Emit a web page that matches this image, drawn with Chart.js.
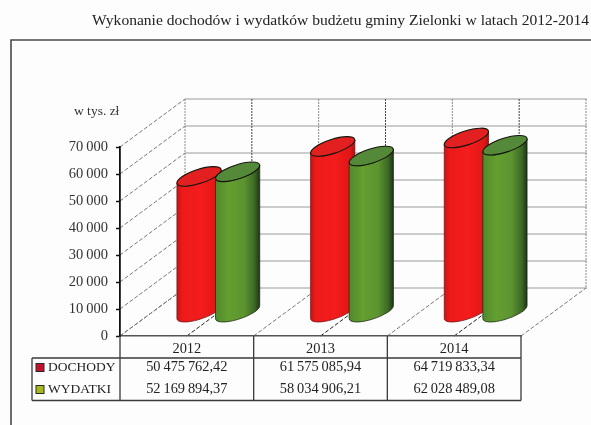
<!DOCTYPE html>
<html lang="pl">
<head>
<meta charset="utf-8">
<style>html,body{margin:0;padding:0;background:#fdfdfd}canvas{display:block;filter:blur(0.45px)}</style>
<script src="https://cdn.jsdelivr.net/npm/chart.js@4"></script>
</head>
<body>
<canvas id="c" width="591" height="425"></canvas>
<script>
const chartTitle = 'Wykonanie dochodów i wydatków budżetu gminy Zielonki w latach 2012-2014';
const unitLabel = 'w tys. zł';
const years = ['2012', '2013', '2014'];
const dochody = [50475762.42, 61575085.94, 64719833.34];
const wydatki = [52169894.37, 58034906.21, 62028489.08];
const SERIF = '"Liberation Serif","Times New Roman",serif';
const THIN = '\u2009';

function group(s){return s.replace(/\B(?=(\d{3})+(?!\d))/g, THIN);}
function money(v){const p=v.toFixed(2).split('.');return group(p[0])+','+p[1];}

const DEPTH = {x:65, y:48};
const BAR_SHIFT = {x:31.5, y:23.3};

function shade(ctx,x0,x1,stops){
  const g=ctx.createLinearGradient(x0,0,x1,0);
  stops.forEach(s=>g.addColorStop(s[0],s[1]));
  return g;
}

function cylinder(ctx,bar,style){
  const rot=-18*Math.PI/180, a=bar.width*0.6, b=bar.width*0.182;
  const cx=bar.x+BAR_SHIFT.x, top=bar.y-BAR_SHIFT.y, bot=bar.base-BAR_SHIFT.y;
  const t=Math.atan2(-b*Math.sin(rot), a*Math.cos(rot));
  const px=a*Math.cos(t)*Math.cos(rot)-b*Math.sin(t)*Math.sin(rot);
  const py=a*Math.cos(t)*Math.sin(rot)+b*Math.sin(t)*Math.cos(rot);
  ctx.save();
  ctx.beginPath();
  ctx.moveTo(cx+px,top+py);
  ctx.lineTo(cx+px,bot+py);
  ctx.ellipse(cx,bot,a,b,rot,t,t+Math.PI,false);
  ctx.lineTo(cx-px,top-py);
  ctx.ellipse(cx,top,a,b,rot,t+Math.PI,t,true);
  ctx.closePath();
  ctx.fillStyle=shade(ctx,cx-px,cx+px,style.body);
  ctx.fill();
  ctx.lineWidth=0.8;
  ctx.strokeStyle=style.edge;
  ctx.stroke();
  ctx.beginPath();
  ctx.ellipse(cx,top,a,b,rot,0,Math.PI*2);
  ctx.fillStyle=style.cap;
  ctx.fill();
  ctx.lineWidth=1.1;
  ctx.strokeStyle='#14140c';
  ctx.stroke();
  ctx.restore();
}

const styles=[
  {cap:'#e2201f',edge:'#7a1010',body:[[0,'#c81414'],[0.12,'#ee1a1a'],[0.55,'#f41c1c'],[0.9,'#e01616'],[1,'#a81010']]},
  {cap:'#55893a',edge:'#1e2c14',body:[[0,'#4f8a2c'],[0.3,'#649f30'],[0.65,'#5c9430'],[0.88,'#3c6a26'],[1,'#1e3416']]}
];

const wallPlugin={
  id:'wall',
  beforeDraw(chart){
    const {ctx,chartArea:ca,scales:{x,y}}=chart;
    ctx.save();
    ctx.fillStyle='#fdfdfd';ctx.fillRect(0,0,591,425);
    ctx.strokeStyle='#4a4a4a';ctx.lineWidth=1.6;
    ctx.beginPath();ctx.moveTo(591,40);ctx.lineTo(11,40);ctx.lineTo(11,425);ctx.stroke();
    ctx.lineWidth=1;
    y.ticks.forEach(t=>{
      const py=y.getPixelForValue(t.value);
      ctx.strokeStyle='#9a9a9a';ctx.setLineDash([]);
      ctx.beginPath();ctx.moveTo(ca.left+DEPTH.x,py-DEPTH.y);ctx.lineTo(ca.right+DEPTH.x+1,py-DEPTH.y);ctx.stroke();
      ctx.strokeStyle='#777';ctx.setLineDash([4,2]);
      ctx.beginPath();ctx.moveTo(ca.left,py);ctx.lineTo(ca.left+DEPTH.x,py-DEPTH.y);ctx.stroke();
    });
    const step=x.getPixelForValue(1)-x.getPixelForValue(0);
    const topY=ca.top-DEPTH.y, botY=ca.bottom-DEPTH.y;
    for(let i=0;i<=years.length;i++){
      const bx=ca.left+i*step;
      ctx.strokeStyle='#8a8a8a';ctx.setLineDash([2,1]);
      ctx.beginPath();ctx.moveTo(bx+DEPTH.x,topY);ctx.lineTo(bx+DEPTH.x,botY);ctx.stroke();
      ctx.strokeStyle='#777';ctx.setLineDash([4,2]);
      ctx.beginPath();ctx.moveTo(bx,ca.bottom);ctx.lineTo(bx+DEPTH.x,botY);ctx.stroke();
      if(i<years.length){
        const cx=x.getPixelForValue(i);
        ctx.strokeStyle='#444';ctx.setLineDash([2,1]);
        ctx.beginPath();ctx.moveTo(cx+DEPTH.x,topY);ctx.lineTo(cx+DEPTH.x,botY);ctx.stroke();
        ctx.strokeStyle='#222';ctx.setLineDash([4,2]);
        ctx.beginPath();ctx.moveTo(cx,ca.bottom);ctx.lineTo(cx+DEPTH.x,botY);ctx.stroke();
      }
    }
    ctx.restore();
  },
  beforeDatasetsDraw(chart){
    chart.data.datasets.forEach((d,i)=>{
      chart.getDatasetMeta(i).data.forEach(bar=>cylinder(chart.ctx,bar.getProps(['x','y','base','width'],true),styles[i]));
    });
  },
  beforeDatasetDraw(){
    return false;
  },
  afterDraw(chart){
    const {ctx,chartArea:ca,scales:{x}}=chart;
    ctx.save();
    ctx.fillStyle='#222';
    ctx.textBaseline='middle';
    ctx.font='15.55px '+SERIF;
    ctx.textAlign='right';
    ctx.fillText(chartTitle,589,21);
    ctx.fillStyle='#333';
    ctx.font='13.5px '+SERIF;
    ctx.textAlign='left';
    ctx.fillText(unitLabel,74,111);
    const tl=32, r1=358, r2=400.5, rowA=367.5, rowB=389.5;
    ctx.strokeStyle='#3a3a3a';ctx.lineWidth=1.3;
    ctx.beginPath();
    ctx.moveTo(tl,r1);ctx.lineTo(ca.right,r1);
    ctx.moveTo(tl,r2);ctx.lineTo(ca.right,r2);
    ctx.moveTo(tl,r1);ctx.lineTo(tl,r2);
    const step=x.getPixelForValue(1)-x.getPixelForValue(0);
    for(let i=0;i<=years.length;i++){
      const bx=ca.left+i*step;
      ctx.moveTo(bx,ca.bottom);ctx.lineTo(bx,r2);
    }
    ctx.stroke();
    const sw=[{y:rowA,c:'#c4122e',t:'DOCHODY',v:dochody},{y:rowB,c:'#a6b81e',t:'WYDATKI',v:wydatki}];
    sw.forEach(s=>{
      ctx.fillStyle=s.c;ctx.strokeStyle='#2a2a2a';ctx.lineWidth=1;
      ctx.fillRect(36,s.y-4,8,8);ctx.strokeRect(36,s.y-4,8,8);
      ctx.fillStyle='#222';ctx.font='13.5px '+SERIF;ctx.textAlign='left';
      ctx.fillText(s.t,48,s.y);
      ctx.font='14.4px '+SERIF;
      ctx.textAlign='center';
      s.v.forEach((v,i)=>ctx.fillText(money(v),x.getPixelForValue(i),s.y));
    });
    ctx.restore();
  }
};

new Chart(document.getElementById('c'),{
  type:'bar',
  data:{
    labels:years,
    datasets:[
      {label:'DOCHODY',data:dochody.map(v=>v/1000),backgroundColor:'#e2201f'},
      {label:'WYDATKI',data:wydatki.map(v=>v/1000),backgroundColor:'#55893a'}
    ]
  },
  plugins:[wallPlugin],
  options:{
    responsive:false,
    animation:false,
    devicePixelRatio:1,
    layout:{padding:{left:0,right:70,top:147,bottom:64}},
    datasets:{bar:{categoryPercentage:0.577,barPercentage:1}},
    plugins:{legend:{display:false},tooltip:{enabled:false},title:{display:false}},
    scales:{
      x:{
        grid:{display:false,drawTicks:false},
        border:{color:'#555',width:1.5,dash:[2,1]},
        ticks:{color:'#222',font:{family:SERIF,size:14.4},padding:5,maxRotation:0},
        afterFit(s){s.height=25;}
      },
      y:{
        min:0,max:70000,
        grid:{drawOnChartArea:false,drawTicks:true,tickLength:4,color:'#111',tickWidth:1.5},
        border:{color:'#111',width:1.8},
        ticks:{stepSize:10000,color:'#333',padding:8,font:{family:SERIF,size:14.5},
          callback:v=>group(String(v))},
        afterFit(s){s.width=120;}
      }
    }
  }
});
</script>
</body>
</html>
